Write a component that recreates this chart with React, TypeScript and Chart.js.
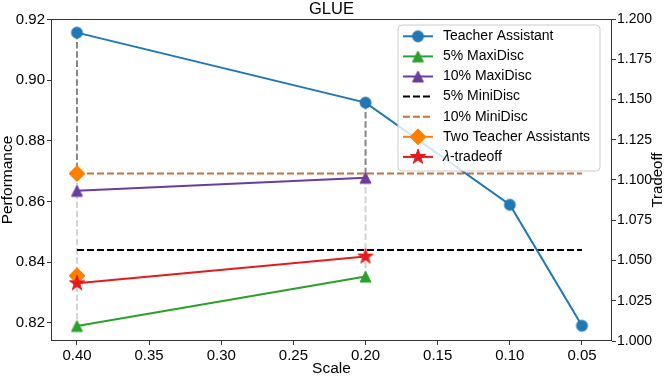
import React, { useEffect, useRef } from 'react';
import { Chart, registerables } from 'chart.js';
Chart.register(...registerables);

// ---- data ----
const taScales = [0.4, 0.2, 0.1, 0.05];
const teacherAssistant = [0.9157, 0.8926, 0.8589, 0.819];
const maxiScales = [0.4, 0.2];
const maxi5 = [0.8189, 0.8352];
const maxi10 = [0.8635, 0.8678];
const miniScales = [0.4, 0.05];
const mini5 = [0.844, 0.844];
const mini10 = [0.8692, 0.8692];
const twoTAScales = [0.4, 0.4];
const twoTA = [0.8692, 0.8355];
const lambdaScales = [0.4, 0.2];
const lambdaTradeoff = [0.833, 0.8418];
const xTicks = [0.4, 0.35, 0.3, 0.25, 0.2, 0.15, 0.1, 0.05];
const perfTicks = [0.82, 0.84, 0.86, 0.88, 0.9, 0.92];
const tradeoffTicks = [1.0, 1.025, 1.05, 1.075, 1.1, 1.125, 1.15, 1.175, 1.2];
const legendLabels = [
  'Teacher Assistant',
  '5% MaxiDisc',
  '10% MaxiDisc',
  '5% MiniDisc',
  '10% MiniDisc',
  'Two Teacher Assistants',
  'λ-tradeoff',
];

const BLUE = '#1f77b4';
const GREEN = '#2ca02c';
const PURPLE = '#6a3d9a';
const BLACK = '#000000';
const BROWN = '#c8703c';
const ORANGE = '#ff7f00';
const RED = '#e41a1c';
const DARKGRAY = 'rgba(128,128,128,0.95)';
const LIGHTGRAY = '#d3d3d3';
const FONT = "'Liberation Sans', Arial, Helvetica, sans-serif";

function makeMarker(shape: string, color: string, size: number): HTMLCanvasElement {
  const c = document.createElement('canvas');
  const s = Math.ceil(size * 2 + 4);
  c.width = s;
  c.height = s;
  const ctx = c.getContext('2d')!;
  const cx = s / 2;
  const cy = s / 2;
  ctx.fillStyle = color;
  ctx.strokeStyle = color;
  ctx.lineWidth = 1;
  ctx.beginPath();
  if (shape === 'triangle') {
    ctx.moveTo(cx, cy - size);
    ctx.lineTo(cx + size, cy + size);
    ctx.lineTo(cx - size, cy + size);
  } else if (shape === 'diamond') {
    ctx.moveTo(cx, cy - size);
    ctx.lineTo(cx + size, cy);
    ctx.lineTo(cx, cy + size);
    ctx.lineTo(cx - size, cy);
  } else if (shape === 'star') {
    const inner = size * 0.381966;
    for (let k = 0; k < 10; k++) {
      const r = k % 2 === 0 ? size : inner;
      const a = (k * Math.PI) / 5;
      const px = cx + Math.sin(a) * r;
      const py = cy - Math.cos(a) * r;
      if (k === 0) ctx.moveTo(px, py);
      else ctx.lineTo(px, py);
    }
  } else {
    ctx.arc(cx, cy, size, 0, Math.PI * 2);
  }
  ctx.closePath();
  ctx.fill();
  ctx.stroke();
  return c;
}

const pts = (xs: number[], ys: number[]) => xs.map((x, i) => ({ x, y: ys[i] }));

const App = () => {
  const ref = useRef<HTMLCanvasElement>(null);
  useEffect(() => {
    const canvas = ref.current!;
    const triGreen = makeMarker('triangle', GREEN, 5.5);
    const triPurple = makeMarker('triangle', PURPLE, 5.5);
    const diamond = makeMarker('diamond', ORANGE, 8);
    const star = makeMarker('star', RED, 8);
    const circle = makeMarker('circle', BLUE, 5.5);

    const legendItems = [
      { color: BLUE, dash: [] as number[], marker: circle },
      { color: GREEN, dash: [], marker: triGreen },
      { color: PURPLE, dash: [], marker: triPurple },
      { color: BLACK, dash: [7, 3], marker: null },
      { color: BROWN, dash: [7, 3], marker: null },
      { color: ORANGE, dash: [], marker: diamond },
      { color: RED, dash: [], marker: star },
    ];

    const framePlugin = {
      id: 'frame',
      afterDatasetsDraw(chart: any) {
        const { ctx, chartArea: a } = chart;
        ctx.save();
        ctx.strokeStyle = '#333';
        ctx.lineWidth = 1;
        ctx.strokeRect(Math.round(a.left) + 0.5, Math.round(a.top) + 0.5, Math.round(a.right - a.left) - 1, Math.round(a.bottom - a.top) - 1);
        ctx.restore();
      },
      afterDraw(chart: any) {
        const { ctx, chartArea: a } = chart;
        ctx.save();
        // title
        ctx.fillStyle = '#000';
        ctx.font = `16.5px ${FONT}`;
        ctx.textAlign = 'center';
        ctx.textBaseline = 'middle';
        ctx.fillText('GLUE', (a.left + a.right) / 2, 9);
        // right axis title (reads bottom to top)
        ctx.save();
        ctx.translate(657.5, (a.top + a.bottom) / 2);
        ctx.rotate(-Math.PI / 2);
        ctx.font = `15px ${FONT}`;
        ctx.fillText('Tradeoff', 0, 0);
        ctx.restore();
        // legend
        const bx = 398, by = 25, bw = 202, bh = 146, rr = 4;
        ctx.beginPath();
        ctx.moveTo(bx + rr, by);
        ctx.arcTo(bx + bw, by, bx + bw, by + bh, rr);
        ctx.arcTo(bx + bw, by + bh, bx, by + bh, rr);
        ctx.arcTo(bx, by + bh, bx, by, rr);
        ctx.arcTo(bx, by, bx + bw, by, rr);
        ctx.closePath();
        ctx.fillStyle = 'rgba(255,255,255,0.8)';
        ctx.fill();
        ctx.strokeStyle = '#cccccc';
        ctx.lineWidth = 1;
        ctx.stroke();
        const y0 = 36.3, dy = 20.1;
        legendItems.forEach((it, i) => {
          const y = y0 + i * dy;
          ctx.save();
          ctx.strokeStyle = it.color;
          ctx.lineWidth = 2;
          ctx.setLineDash(it.dash);
          ctx.beginPath();
          ctx.moveTo(403, y);
          ctx.lineTo(433, y);
          ctx.stroke();
          ctx.restore();
          if (it.marker) {
            ctx.drawImage(it.marker, 418 - it.marker.width / 2, y - it.marker.height / 2);
          }
          ctx.fillStyle = '#000';
          ctx.textAlign = 'left';
          ctx.textBaseline = 'middle';
          const label = legendLabels[i];
          if (label.startsWith('λ')) {
            ctx.font = `italic 14px ${FONT}`;
            ctx.fillText('λ', 443, y);
            const w = ctx.measureText('λ').width;
            ctx.font = `14px ${FONT}`;
            ctx.fillText(label.slice(1), 443 + w, y);
          } else {
            ctx.font = `14px ${FONT}`;
            ctx.fillText(label, 443, y);
          }
        });
        ctx.restore();
      },
    };

    const lineDs = (data: any[], color: string, marker: any, extra: any = {}) => ({
      data,
      borderColor: color,
      backgroundColor: color,
      borderWidth: 2,
      pointStyle: marker || 'circle',
      pointRadius: marker ? 5 : 0,
      pointBorderWidth: 0,
      showLine: true,
      ...extra,
    });

    const chart = new Chart(canvas, {
      type: 'scatter',
      data: {
        datasets: [
          lineDs(pts(lambdaScales, lambdaTradeoff), RED, star),
          lineDs(pts(taScales, teacherAssistant), BLUE, circle),
          lineDs(pts(maxiScales, maxi10), PURPLE, triPurple),
          lineDs(pts(twoTAScales, twoTA), ORANGE, diamond, { showLine: false }),
          lineDs(pts(maxiScales, maxi5), GREEN, triGreen),
          lineDs(pts(miniScales, mini10), BROWN, null, { borderDash: [7, 3] }),
          lineDs(pts(miniScales, mini5), BLACK, null, { borderDash: [7, 3] }),
          lineDs(pts([taScales[0], taScales[0]], [teacherAssistant[0], twoTA[0]]), DARKGRAY, null, { borderDash: [6.5, 2.8] }),
          lineDs(pts([taScales[0], taScales[0]], [twoTA[0], maxi5[0]]), LIGHTGRAY, null, { borderDash: [6.5, 2.8] }),
          lineDs(pts([taScales[1], taScales[1]], [teacherAssistant[1], maxi10[1]]), DARKGRAY, null, { borderDash: [6.5, 2.8] }),
          lineDs(pts([taScales[1], taScales[1]], [maxi10[1], maxi5[1]]), LIGHTGRAY, null, { borderDash: [6.5, 2.8] }),
        ],
      },
      options: {
        responsive: false,
        animation: false,
        events: [],
        devicePixelRatio: 1,
        layout: { padding: { top: 19, left: 0, right: 0, bottom: 0 } },
        plugins: { legend: { display: false }, tooltip: { enabled: false }, title: { display: false } },
        scales: {
          x: {
            type: 'linear',
            reverse: true,
            min: 0.0292,
            max: 0.418,
            afterBuildTicks: (s: any) => { s.ticks = xTicks.map((v) => ({ value: v })); },
            afterFit: (s: any) => { s.height = 35; },
            ticks: { autoSkip: false, maxRotation: 0, padding: 2, color: '#000', font: { family: FONT, size: 15 }, callback: (v: any) => Number(v).toFixed(2) },
            grid: { drawOnChartArea: false, tickLength: 4, tickColor: '#333', tickWidth: 1 },
            border: { display: false },
            title: { display: true, text: 'Scale', color: '#000', font: { family: FONT, size: 15.5, lineHeight: 1 }, padding: 0 },
          },
          y: {
            type: 'linear',
            position: 'left',
            min: 0.81395,
            max: 0.9202,
            afterBuildTicks: (s: any) => { s.ticks = perfTicks.map((v) => ({ value: v })); },
            afterFit: (s: any) => { s.width = 51; },
            ticks: { autoSkip: false, padding: 2, color: '#000', font: { family: FONT, size: 15 }, callback: (v: any) => Number(v).toFixed(2) },
            grid: { drawOnChartArea: false, tickLength: 4, tickColor: '#333', tickWidth: 1 },
            border: { display: false },
            title: { display: true, text: 'Performance', color: '#000', font: { family: FONT, size: 15.5, lineHeight: 1 }, padding: 0 },
          },
          y1: {
            type: 'linear',
            position: 'right',
            min: 1.0,
            max: 1.2,
            afterBuildTicks: (s: any) => { s.ticks = tradeoffTicks.map((v) => ({ value: v })); },
            afterFit: (s: any) => { s.width = 52; },
            ticks: { autoSkip: false, padding: 1, color: '#000', font: { family: FONT, size: 14 }, callback: (v: any) => Number(v).toFixed(3) },
            grid: { drawOnChartArea: false, tickLength: 4, tickColor: '#333', tickWidth: 1 },
            border: { display: false },
            title: { display: false },
          },
        },
      } as any,
      plugins: [framePlugin],
    });
    return () => chart.destroy();
  }, []);
  return (
    <div style={{ position: 'absolute', left: 0, top: 0, width: 664, height: 376, background: '#fff' }}>
      <canvas ref={ref} width={664} height={376} style={{ display: 'block', width: 664, height: 376 }} />
    </div>
  );
};

export default App;
